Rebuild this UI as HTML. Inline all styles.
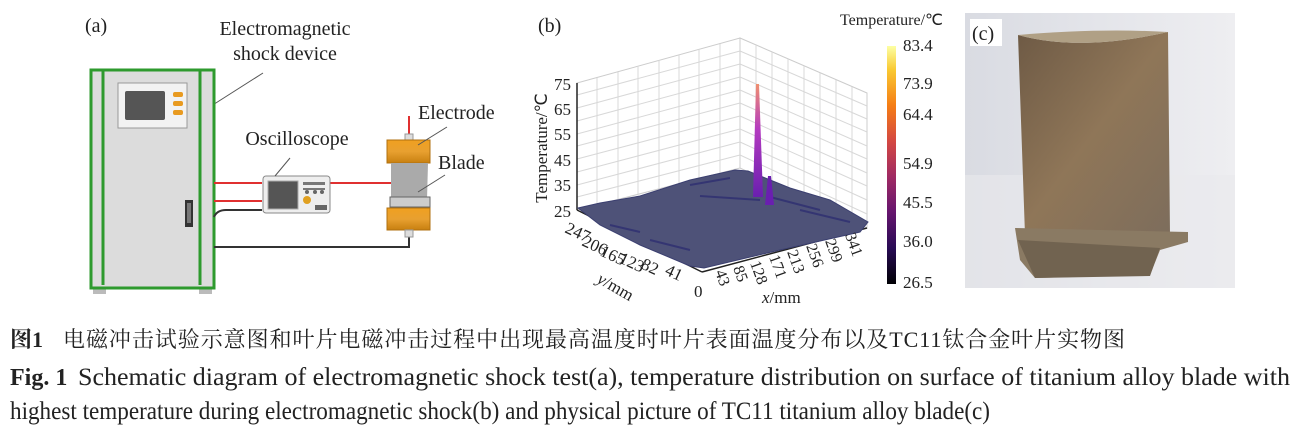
<!DOCTYPE html>
<html><head><meta charset="utf-8"><style>
html,body{margin:0;padding:0;background:#fff;}
svg{display:block;}
text{font-family:"Liberation Serif",serif;fill:#222;}
.cjk{font-family:"Liberation Serif","Noto Serif CJK SC",serif;}
</style></head><body>
<svg width="1298" height="439" viewBox="0 0 1298 439" xmlns="http://www.w3.org/2000/svg">
<defs>
<linearGradient id="cb" x1="0" y1="1" x2="0" y2="0">
<stop offset="0" stop-color="#000004"/><stop offset="0.15" stop-color="#280b54"/>
<stop offset="0.3" stop-color="#65156e"/><stop offset="0.45" stop-color="#9f2a63"/>
<stop offset="0.6" stop-color="#d44842"/><stop offset="0.75" stop-color="#f57d15"/>
<stop offset="0.9" stop-color="#f9c932"/><stop offset="1" stop-color="#fcffa4"/>
</linearGradient>
<linearGradient id="bg" x1="0" y1="0" x2="1" y2="0">
<stop offset="0" stop-color="#d9dbe2"/><stop offset="0.5" stop-color="#e4e5ea"/><stop offset="1" stop-color="#eeeef1"/>
</linearGradient>
<linearGradient id="bl" x1="0" y1="0" x2="1" y2="1">
<stop offset="0" stop-color="#6e5a45"/><stop offset="0.5" stop-color="#8f7658"/><stop offset="1" stop-color="#7d6d5c"/>
</linearGradient>
<linearGradient id="cyl" x1="0" y1="0" x2="0" y2="1">
<stop offset="0" stop-color="#f0a020"/><stop offset="0.5" stop-color="#e8a030"/><stop offset="1" stop-color="#c88010"/>
</linearGradient>
<linearGradient id="spk" x1="0" y1="1" x2="0" y2="0">
<stop offset="0" stop-color="#6a1fb0"/><stop offset="0.6" stop-color="#b43bc0"/><stop offset="1" stop-color="#f09070"/>
</linearGradient>
</defs>

<!-- (a) schematic -->
<text x="85" y="32" font-size="20">(a)</text>
<text x="285" y="35" font-size="20" text-anchor="middle">Electromagnetic</text>
<text x="285" y="60" font-size="20" text-anchor="middle">shock device</text>
<line x1="263" y1="73" x2="208" y2="108" stroke="#555" stroke-width="1"/>
<rect x="93" y="288" width="13" height="6" fill="#bbb"/>
<rect x="199" y="288" width="13" height="6" fill="#bbb"/>
<rect x="91" y="70" width="123" height="218" fill="#dcdcdc" stroke="#2e9a2e" stroke-width="3"/>
<line x1="103" y1="70" x2="103" y2="285" stroke="#2e9a2e" stroke-width="3"/>
<line x1="200" y1="70" x2="200" y2="285" stroke="#2e9a2e" stroke-width="3"/>
<rect x="118" y="83" width="69" height="45" fill="#f2f2f2" stroke="#999"/>
<rect x="125" y="91" width="40" height="29" rx="2" fill="#555"/>
<rect x="173" y="92" width="10" height="5" rx="2" fill="#e89a20"/>
<rect x="173" y="101" width="10" height="5" rx="2" fill="#e89a20"/>
<rect x="173" y="110" width="10" height="5" rx="2" fill="#e89a20"/>
<rect x="185" y="200" width="8" height="27" fill="#333"/>
<rect x="187" y="203" width="4" height="20" fill="#777"/>
<line x1="214" y1="183" x2="262" y2="183" stroke="#e03030" stroke-width="2"/>
<line x1="214" y1="201" x2="262" y2="201" stroke="#e03030" stroke-width="2"/>
<line x1="330" y1="183" x2="393" y2="183" stroke="#e03030" stroke-width="2"/>
<path d="M214 217 Q217 210 226 210 L262 210" fill="none" stroke="#333" stroke-width="2"/>
<path d="M214 247 L409 247 L409 236" fill="none" stroke="#333" stroke-width="2"/>
<rect x="263" y="176" width="67" height="37" rx="3" fill="#eee" stroke="#888"/>
<rect x="268" y="181" width="30" height="28" fill="#555" stroke="#aaa"/>
<circle cx="307" cy="200" r="4" fill="#e0a020"/>
<rect x="303" y="182" width="22" height="3" fill="#777"/>
<rect x="303" y="188" width="22" height="2" fill="#777"/>
<circle cx="307" cy="192" r="2" fill="#666"/><circle cx="315" cy="192" r="2" fill="#666"/><circle cx="322" cy="192" r="2" fill="#666"/>
<rect x="315" y="205" width="12" height="5" fill="#666"/>
<text x="297" y="145" font-size="20" text-anchor="middle">Oscilloscope</text>
<line x1="290" y1="158" x2="275" y2="176" stroke="#555"/>
<line x1="409" y1="116" x2="409" y2="136" stroke="#e03030" stroke-width="2"/>
<rect x="405" y="134" width="8" height="7" fill="#ddd" stroke="#999"/>
<rect x="387" y="140" width="43" height="23" fill="url(#cyl)" stroke="#b07010"/>
<path d="M391 163 L428 163 L427 200 L391 200 Z" fill="#aaa"/>
<rect x="390" y="197" width="40" height="10" fill="#ccc" stroke="#666"/>
<rect x="387" y="208" width="43" height="22" fill="url(#cyl)" stroke="#b07010"/>
<rect x="405" y="230" width="8" height="7" fill="#ddd" stroke="#999"/>
<text x="418" y="119" font-size="20">Electrode</text>
<line x1="447" y1="127" x2="418" y2="145" stroke="#555"/>
<text x="438" y="169" font-size="20">Blade</text>
<line x1="445" y1="175" x2="418" y2="192" stroke="#555"/>

<!-- (b) 3D plot -->
<text x="538" y="32" font-size="20">(b)</text>
<g stroke="#d8d8d8" stroke-width="1" fill="none">
<path d="M577 83 L740 38 L740 168 L577 210 Z" fill="#fff" stroke="#ccc"/>
<path d="M740 38 L867 93 L867 228 L740 168 Z" fill="#fff" stroke="#ccc"/>
<path d="M577 108 L740 64 M577 134 L740 90 M577 159 L740 116 M577 185 L740 142
M577 95 L740 51 M577 121 L740 77 M577 146 L740 103 M577 172 L740 129 M577 197 L740 155"/>
<path d="M740 64 L867 119 M740 90 L867 146 M740 116 L867 173 M740 142 L867 200
M740 51 L867 106 M740 77 L867 132 M740 103 L867 159 M740 129 L867 186 M740 155 L867 214"/>
<path d="M597 78 L597 205 M618 72 L618 200 M638 66 L638 194 M659 60 L659 189 M679 55 L679 184 M699 49 L699 178 M720 44 L720 173"/>
<path d="M756 45 L756 175 M772 52 L772 183 M788 59 L788 190 M804 66 L804 198 M820 73 L820 205 M836 80 L836 213 M852 87 L852 221"/>
</g>
<line x1="577" y1="83" x2="577" y2="210" stroke="#222" stroke-width="1.5"/>
<line x1="577" y1="210" x2="702" y2="272" stroke="#222" stroke-width="1.5"/>
<line x1="702" y1="272" x2="867" y2="228" stroke="#222" stroke-width="1.5"/>
<path d="M578 208 L600 203 L640 196 L690 180 L735 170 L748 171 L790 188 L830 200 L868 222 L860 232 L780 250 L704 268 L690 266 L640 245 L600 225 Z" fill="#4e5278" stroke="#3b3f70" stroke-width="1"/>
<path d="M610 225 L640 232 M650 240 L690 250 M700 196 L760 200 M770 197 L820 210 M800 210 L850 222 M690 185 L730 178" stroke="#2a2a70" stroke-width="2" opacity="0.7"/>
<path d="M753 197 L756 84 L759 84 L763 197 Z" fill="url(#spk)"/>
<path d="M765 205 L768 176 L771 176 L774 205 Z" fill="#6a1fb0"/>
<g font-size="17" text-anchor="end">
<text x="571" y="90">75</text><text x="571" y="115">65</text><text x="571" y="140">55</text>
<text x="571" y="166">45</text><text x="571" y="191">35</text><text x="571" y="217">25</text>
</g>
<text transform="translate(547,148) rotate(-90)" font-size="17" text-anchor="middle">Temperature/℃</text>
<g font-size="17">
<text transform="translate(564,232) rotate(25)">247</text>
<text transform="translate(581,245) rotate(25)">206</text>
<text transform="translate(599,255) rotate(25)">165</text>
<text transform="translate(618,262) rotate(25)">123</text>
<text transform="translate(640,268) rotate(25)">82</text>
<text transform="translate(664,274) rotate(25)">41</text>
<text transform="translate(596,282) rotate(30)"><tspan font-style="italic">y</tspan>/mm</text>
<text x="694" y="297">0</text>
</g>
<g font-size="16">
<text transform="translate(715,272) rotate(70)">43</text>
<text transform="translate(733,268) rotate(70)">85</text>
<text transform="translate(750,263) rotate(70)">128</text>
<text transform="translate(769,257) rotate(70)">171</text>
<text transform="translate(787,252) rotate(70)">213</text>
<text transform="translate(806,246) rotate(70)">256</text>
<text transform="translate(825,241) rotate(70)">299</text>
<text transform="translate(845,235) rotate(70)">341</text>
</g>
<text x="762" y="303" font-size="17"><tspan font-style="italic">x</tspan>/mm</text>
<text x="840" y="25" font-size="16">Temperature/℃</text>
<rect x="887" y="46" width="9" height="238" fill="url(#cb)"/>
<g font-size="17">
<text x="903" y="51">83.4</text><text x="903" y="89">73.9</text><text x="903" y="120">64.4</text>
<text x="903" y="169">54.9</text><text x="903" y="208">45.5</text><text x="903" y="247">36.0</text>
<text x="903" y="288">26.5</text>
</g>

<!-- (c) photo -->
<rect x="965" y="13" width="270" height="275" fill="url(#bg)"/>
<rect x="965" y="175" width="270" height="113" fill="#e9e9ec" opacity="0.6"/>
<path d="M1018 35 Q1080 52 1168 32 L1170 235 L1025 235 Z" fill="url(#bl)"/>
<path d="M1018 35 Q1080 52 1168 32 Q1100 28 1018 35 Z" fill="#b0a085"/>
<path d="M1015 228 L1188 232 L1188 242 L1160 250 L1150 275 L1035 278 L1020 260 Z" fill="#8a7a63"/>
<path d="M1018 240 L1160 248 L1150 276 L1035 278 Z" fill="#716350"/>
<rect x="970" y="19" width="32" height="27" fill="#fff"/>
<text x="972" y="40" font-size="20">(c)</text>

<!-- caption -->
<text class="cjk" x="10" y="347" font-size="22" font-weight="bold">图1</text>
<text class="cjk" x="63" y="347" font-size="22" textLength="1062" lengthAdjust="spacing">电磁冲击试验示意图和叶片电磁冲击过程中出现最高温度时叶片表面温度分布以及TC11钛合金叶片实物图</text>
<text x="10" y="385" font-size="24" font-weight="bold">Fig. 1</text>
<text x="78" y="385" font-size="25" textLength="1212" lengthAdjust="spacingAndGlyphs">Schematic diagram of electromagnetic shock test(a), temperature distribution on surface of titanium alloy blade with</text>
<text x="10" y="419" font-size="25" textLength="980" lengthAdjust="spacingAndGlyphs">highest temperature during electromagnetic shock(b) and physical picture of TC11 titanium alloy blade(c)</text>
</svg>
</body></html>
